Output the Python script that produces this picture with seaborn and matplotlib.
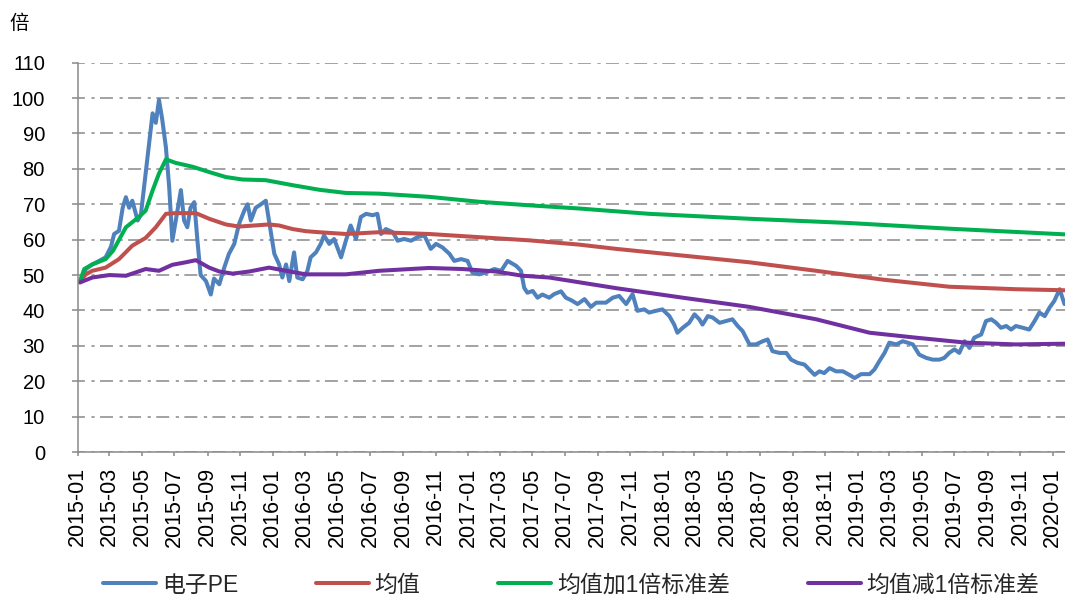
import pandas as pd
import matplotlib
matplotlib.use('Agg')
import matplotlib.pyplot as plt
import seaborn as sns

# 电子PE (irregular dates)
pe_dates = [
    '2015-01-05', '2015-01-16', '2015-01-28', '2015-02-10', '2015-02-22', '2015-03-04',
    '2015-03-10', '2015-03-19', '2015-03-26', '2015-04-01', '2015-04-07', '2015-04-13',
    '2015-04-23', '2015-04-29', '2015-05-08', '2015-05-15', '2015-05-21', '2015-05-27',
    '2015-06-02', '2015-06-08', '2015-06-15', '2015-06-21', '2015-06-27', '2015-07-03',
    '2015-07-13', '2015-07-19', '2015-07-25', '2015-07-31', '2015-08-07', '2015-08-13',
    '2015-08-19', '2015-08-29', '2015-09-07', '2015-09-13', '2015-09-23', '2015-10-02',
    '2015-10-11', '2015-10-21', '2015-10-30', '2015-11-09', '2015-11-15', '2015-11-21',
    '2015-11-30', '2015-12-10', '2015-12-19', '2015-12-25', '2016-01-04', '2016-01-13',
    '2016-01-19', '2016-01-26', '2016-02-01', '2016-02-10', '2016-02-16', '2016-02-26',
    '2016-03-06', '2016-03-12', '2016-03-22', '2016-03-31', '2016-04-06', '2016-04-16',
    '2016-04-25', '2016-05-08', '2016-05-17', '2016-05-26', '2016-06-05', '2016-06-14',
    '2016-06-24', '2016-07-06', '2016-07-15', '2016-07-22', '2016-07-31', '2016-08-13',
    '2016-08-22', '2016-09-03', '2016-09-16', '2016-09-28', '2016-10-11', '2016-10-23',
    '2016-11-02', '2016-11-14', '2016-11-27', '2016-12-06', '2016-12-19', '2016-12-31',
    '2017-01-09', '2017-01-22', '2017-02-03', '2017-02-19', '2017-03-04', '2017-03-16',
    '2017-04-01', '2017-04-10', '2017-04-16', '2017-04-22', '2017-05-02', '2017-05-11',
    '2017-05-20', '2017-06-02', '2017-06-11', '2017-06-24', '2017-07-03', '2017-07-13',
    '2017-07-25', '2017-08-07', '2017-08-19', '2017-08-29', '2017-09-16', '2017-09-29',
    '2017-10-11', '2017-10-24', '2017-11-05', '2017-11-14', '2017-11-27', '2017-12-06',
    '2017-12-19', '2017-12-31', '2018-01-13', '2018-01-22', '2018-01-28', '2018-02-07',
    '2018-02-19', '2018-03-01', '2018-03-10', '2018-03-16', '2018-03-26', '2018-04-04',
    '2018-04-17', '2018-04-29', '2018-05-11', '2018-05-21', '2018-05-30', '2018-06-12',
    '2018-06-24', '2018-07-07', '2018-07-16', '2018-07-25', '2018-08-07', '2018-08-20',
    '2018-08-29', '2018-09-10', '2018-09-23', '2018-10-02', '2018-10-12', '2018-10-21',
    '2018-10-30', '2018-11-09', '2018-11-21', '2018-12-04', '2018-12-16', '2018-12-26',
    '2019-01-07', '2019-01-23', '2019-02-01', '2019-02-10', '2019-02-20', '2019-03-01',
    '2019-03-14', '2019-03-26', '2019-04-04', '2019-04-14', '2019-04-26', '2019-05-09',
    '2019-05-21', '2019-06-03', '2019-06-12', '2019-06-21', '2019-07-01', '2019-07-10',
    '2019-07-20', '2019-07-29', '2019-08-07', '2019-08-20', '2019-08-29', '2019-09-08',
    '2019-09-17', '2019-09-26', '2019-10-06', '2019-10-15', '2019-10-24', '2019-11-06',
    '2019-11-18', '2019-11-28', '2019-12-07', '2019-12-17', '2019-12-26', '2020-01-04',
    '2020-01-14', '2020-01-23',
]
pe_values = [
    48.0, 51.7, 53.0, 54.0, 55.0, 58.0,
    61.6, 62.5, 69.0, 72.0, 69.0, 71.0,
    65.4, 67.0, 78.7, 88.0, 95.7, 93.0,
    99.5, 94.0, 86.0, 75.0, 59.7, 65.0,
    74.0, 65.4, 63.5, 69.0, 70.6, 59.7,
    50.0, 48.3, 44.5, 49.0, 47.4, 52.0,
    56.0, 58.8, 64.5, 68.3, 70.0, 65.4,
    69.0, 70.0, 71.0, 65.4, 56.0, 53.0,
    49.3, 53.0, 48.3, 56.4, 49.3, 48.8,
    51.2, 55.0, 56.4, 58.8, 61.2, 58.8,
    60.2, 55.0, 59.7, 64.0, 60.2, 66.4,
    67.3, 66.9, 67.3, 61.6, 63.0, 62.1,
    59.7, 60.2, 59.7, 60.7, 61.2, 57.4,
    58.8, 57.8, 56.0, 54.0, 54.5, 54.0,
    50.7, 50.2, 50.7, 51.7, 51.2, 54.0,
    52.6, 51.2, 46.4, 45.0, 45.5, 43.6,
    44.5, 43.6, 44.6, 45.4, 43.6, 42.9,
    41.8, 43.2, 41.0, 42.2, 42.2, 43.6,
    44.1, 41.8, 44.6, 39.9, 40.3, 39.4,
    39.9, 40.3, 38.4, 36.0, 33.7, 35.1,
    36.5, 38.9, 37.5, 36.0, 38.4, 38.0,
    36.5, 37.0, 37.5, 35.6, 34.2, 30.4,
    30.4, 31.3, 31.8, 28.5, 28.0, 28.0,
    26.1, 25.2, 24.7, 23.3, 21.8, 22.8,
    22.3, 23.7, 22.8, 22.8, 21.8, 20.9,
    22.0, 22.0, 23.3, 25.6, 28.0, 30.9,
    30.4, 31.3, 30.9, 30.4, 27.5, 26.6,
    26.1, 26.1, 26.6, 28.0, 29.0, 28.0,
    31.3, 29.4, 32.3, 33.2, 37.0, 37.5,
    36.5, 35.1, 35.6, 34.6, 35.6, 35.1,
    34.6, 37.0, 39.4, 38.4, 40.8, 42.7,
    46.0, 41.8,
]

# 均值
mean_dates = ['2015-01-05', '2015-01-16', '2015-01-28', '2015-02-22', '2015-03-19', '2015-04-13',
              '2015-05-08', '2015-05-27', '2015-06-15', '2015-07-03', '2015-08-10', '2015-09-04',
              '2015-10-05', '2015-10-30', '2015-12-25', '2016-01-13', '2016-02-07', '2016-03-03',
              '2016-03-28', '2016-05-17', '2016-07-18', '2016-10-20', '2017-01-22', '2017-04-26',
              '2017-07-28', '2017-10-05', '2018-02-07', '2018-06-12', '2018-10-15', '2019-02-17',
              '2019-06-21', '2019-10-24', '2020-01-23']
mean_values = [48.3, 50.2, 51.2, 52.1, 54.5, 58.3,
               60.5, 63.5, 67.3, 67.5, 67.5, 65.9,
               64.3, 63.7, 64.3, 64.0, 63.0, 62.4,
               62.1, 61.6, 62.1, 61.6, 60.7, 59.8,
               58.6, 57.4, 55.5, 53.6, 51.2, 48.7,
               46.7, 46.0, 45.7]

# 均值加1倍标准差
upper_dates = ['2015-01-05', '2015-01-13', '2015-01-28', '2015-02-22', '2015-03-08', '2015-04-01',
               '2015-04-26', '2015-05-08', '2015-05-21', '2015-06-02', '2015-06-15', '2015-07-03',
               '2015-08-04', '2015-09-04', '2015-10-05', '2015-11-05', '2015-12-19', '2016-02-07',
               '2016-03-28', '2016-05-17', '2016-07-18', '2016-10-20', '2017-01-22', '2017-04-26',
               '2017-07-28', '2017-12-06', '2018-06-12', '2018-12-16', '2019-06-21', '2020-01-23']
upper_values = [48.3, 51.7, 53.0, 54.5, 56.9, 63.5,
                66.5, 68.2, 73.9, 78.7, 82.7, 81.7,
                80.6, 79.1, 77.7, 77.0, 76.8, 75.4,
                74.1, 73.2, 73.0, 72.1, 70.7, 69.7,
                68.8, 67.3, 65.9, 64.7, 63.1, 61.5]

# 均值减1倍标准差
lower_dates = ['2015-01-05', '2015-01-28', '2015-03-01', '2015-04-01', '2015-05-08', '2015-06-02',
               '2015-06-27', '2015-07-22', '2015-08-10', '2015-09-04', '2015-09-23', '2015-10-18',
               '2015-11-18', '2015-12-25', '2016-01-26', '2016-03-03', '2016-05-17', '2016-07-18',
               '2016-10-20', '2016-12-22', '2017-02-22', '2017-04-13', '2017-06-02', '2017-10-05',
               '2018-02-07', '2018-06-12', '2018-10-15', '2019-01-23', '2019-04-20', '2019-07-23',
               '2019-10-24', '2020-01-23']
lower_values = [47.9, 49.3, 50.0, 49.8, 51.7, 51.2,
                52.9, 53.6, 54.2, 52.1, 51.0, 50.4,
                51.0, 52.1, 51.2, 50.2, 50.2, 51.2,
                52.0, 51.7, 51.0, 49.8, 49.3, 46.3,
                43.6, 41.0, 37.5, 33.7, 32.3, 30.9,
                30.4, 30.6]

series_names = ['电子PE', '均值', '均值加1倍标准差', '均值减1倍标准差']
series_colors = ['#4F81BD', '#C0504D', '#00B050', '#7030A0']

tick_dates = pd.date_range('2015-01-01', '2020-01-01', freq='2MS')
tick_labels = [d.strftime('%Y-%m') for d in tick_dates]
y_ticks = list(range(0, 111, 10))

sns.set_theme(style='white')
plt.rcParams['font.family'] = ['Liberation Sans', 'Noto Sans CJK SC']
plt.rcParams['axes.unicode_minus'] = False

fig = plt.figure(figsize=(10.65, 5.96), dpi=100)
ax = fig.add_axes([0.0731, 0.2416, 0.9269, 0.6532])

all_series = [(pe_dates, pe_values), (mean_dates, mean_values),
              (upper_dates, upper_values), (lower_dates, lower_values)]
for (d, v), name, col in zip(all_series, series_names, series_colors):
    df = pd.DataFrame({'date': pd.to_datetime(d), 'value': v})
    sns.lineplot(data=df, x='date', y='value', ax=ax, color=col, linewidth=2.9,
                 label=name, estimator=None)

handles, labels = ax.get_legend_handles_labels()
ax.get_legend().remove()

ax.set_xlim(pd.Timestamp('2015-01-01'), pd.Timestamp('2020-01-24'))
ax.set_ylim(0, 110)
ax.set_yticks(y_ticks)
ax.set_xticks(tick_dates)
ax.set_xticklabels(tick_labels, rotation=90)
ax.set_xlabel('')
ax.set_ylabel('')

grey = '#898989'
ax.grid(axis='y', color=grey, linewidth=1.1, linestyle=(4, (8.5, 4.3, 2.1, 3.5)))
ax.grid(axis='x', visible=False)
ax.set_axisbelow(True)
for s in ['top', 'right']:
    ax.spines[s].set_visible(False)
for s in ['left', 'bottom']:
    ax.spines[s].set_color(grey)
    ax.spines[s].set_linewidth(1.1)

ax.tick_params(axis='x', bottom=True, direction='out', length=3, width=1.1, color=grey,
               pad=8, labelsize=15.5, labelcolor='black')
ax.tick_params(axis='y', left=True, direction='out', length=4.3, width=1.1, color=grey,
               pad=19.4, labelsize=14.5, labelcolor='black')

fig.text(19 / 1065, 1 - 24 / 596, '倍', fontsize=14, ha='center', va='center', color='black')

fig.legend(handles, labels, loc='center left', bbox_to_anchor=(103 / 1065, 11 / 596),
           ncol=4, frameon=False, fontsize=16.5, handlelength=2.31, handletextpad=0.25,
           columnspacing=3.4, borderpad=0, borderaxespad=0)

plt.savefig('out.png', dpi=100)
